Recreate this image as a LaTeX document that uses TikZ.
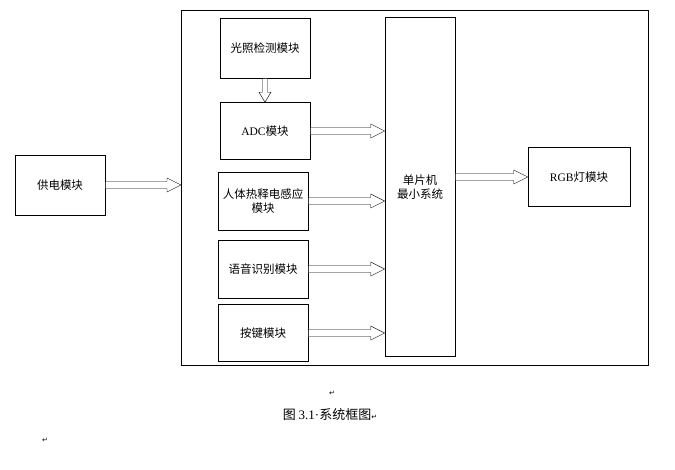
\documentclass[tikz,border=0pt]{standalone}
\usepackage{fontspec}
\setmainfont{Liberation Serif}
\newfontfamily\cjk{Noto Sans CJK SC}
\newfontfamily\dvs{DejaVu Sans}
\usetikzlibrary{calc}
\tikzset{box/.style={draw,semithick,inner sep=0pt,font=\cjk\fontsize{11.5}{14}\selectfont,align=center},
 harr/.style={draw,thin,fill=white}}
\newcommand\arrR[2]{\path[harr] let \p1=#1, \p2=#2 in (\x1,\y1+3.5pt) -- (\x2-14pt,\y1+3.5pt) -- (\x2-14pt,\y1+7pt) -- (\x2,\y1) -- (\x2-14pt,\y1-7pt) -- (\x2-14pt,\y1-3.5pt) -- (\x1,\y1-3.5pt) -- cycle;}
\newcommand\arrD[2]{\path[harr] let \p1=#1, \p2=#2 in (\x1-2.5pt,\y1) -- (\x1-2.5pt,\y2+10pt) -- (\x1-6pt,\y2+10pt) -- (\x1,\y2) -- (\x1+6pt,\y2+10pt) -- (\x1+2.5pt,\y2+10pt) -- (\x1+2.5pt,\y1) -- cycle;}
\begin{document}
\begin{tikzpicture}[x=1pt,y=-1pt]
\useasboundingbox[fill=white] (0,0) rectangle (675,469);
\node[draw,thin,minimum width=467pt,minimum height=355pt,anchor=north west] (frame) at (181,10) {};
\node[box,minimum width=90pt,minimum height=60pt] (pwr) at (60,185) {供电模块};
\node[box,minimum width=90pt,minimum height=60pt] (light) at (265,48) {光照检测模块};
\node[box,minimum width=90pt,minimum height=57pt] (adc) at (265,131) {\fontspec{Liberation Serif}ADC\cjk 模块};
\node[box,minimum width=90pt,minimum height=58pt] (pir) at (263,201) {人体热释电感应\\模块};
\node[box,minimum width=90pt,minimum height=58pt] (voice) at (263,269) {语音识别模块};
\node[box,minimum width=90pt,minimum height=57pt] (key) at (263,333) {按键模块};
\node[box,minimum width=70pt,minimum height=339pt] (mcu) at (420,187) {单片机\\最小系统};
\node[box,minimum width=102pt,minimum height=59pt] (rgb) at (579,177) {\fontspec{Liberation Serif}RGB\cjk 灯模块};
\arrR{(pwr.east)}{($(frame.west)+(0,1)$)}
\arrD{(light.south)}{(adc.north)}
\arrR{(adc.east)}{(adc.east -| mcu.west)}
\arrR{(pir.east)}{(pir.east -| mcu.west)}
\arrR{(voice.east)}{(voice.east -| mcu.west)}
\arrR{(key.east)}{(key.east -| mcu.west)}
\arrR{(mcu.east |- rgb.west)}{(rgb.west)}
\node[font=\dvs\fontsize{7}{8}\selectfont] (m1) at (332,393) {↵};
\node[font=\cjk\fontsize{13}{15}\selectfont] (cap) at (330,415) {图 {\fontspec{Liberation Serif}3.1·}系统框图{\dvs\fontsize{7}{8}\selectfont↵}};
\node[font=\dvs\fontsize{7}{8}\selectfont] (m2) at (45,440) {↵};
\end{tikzpicture}
\end{document}
